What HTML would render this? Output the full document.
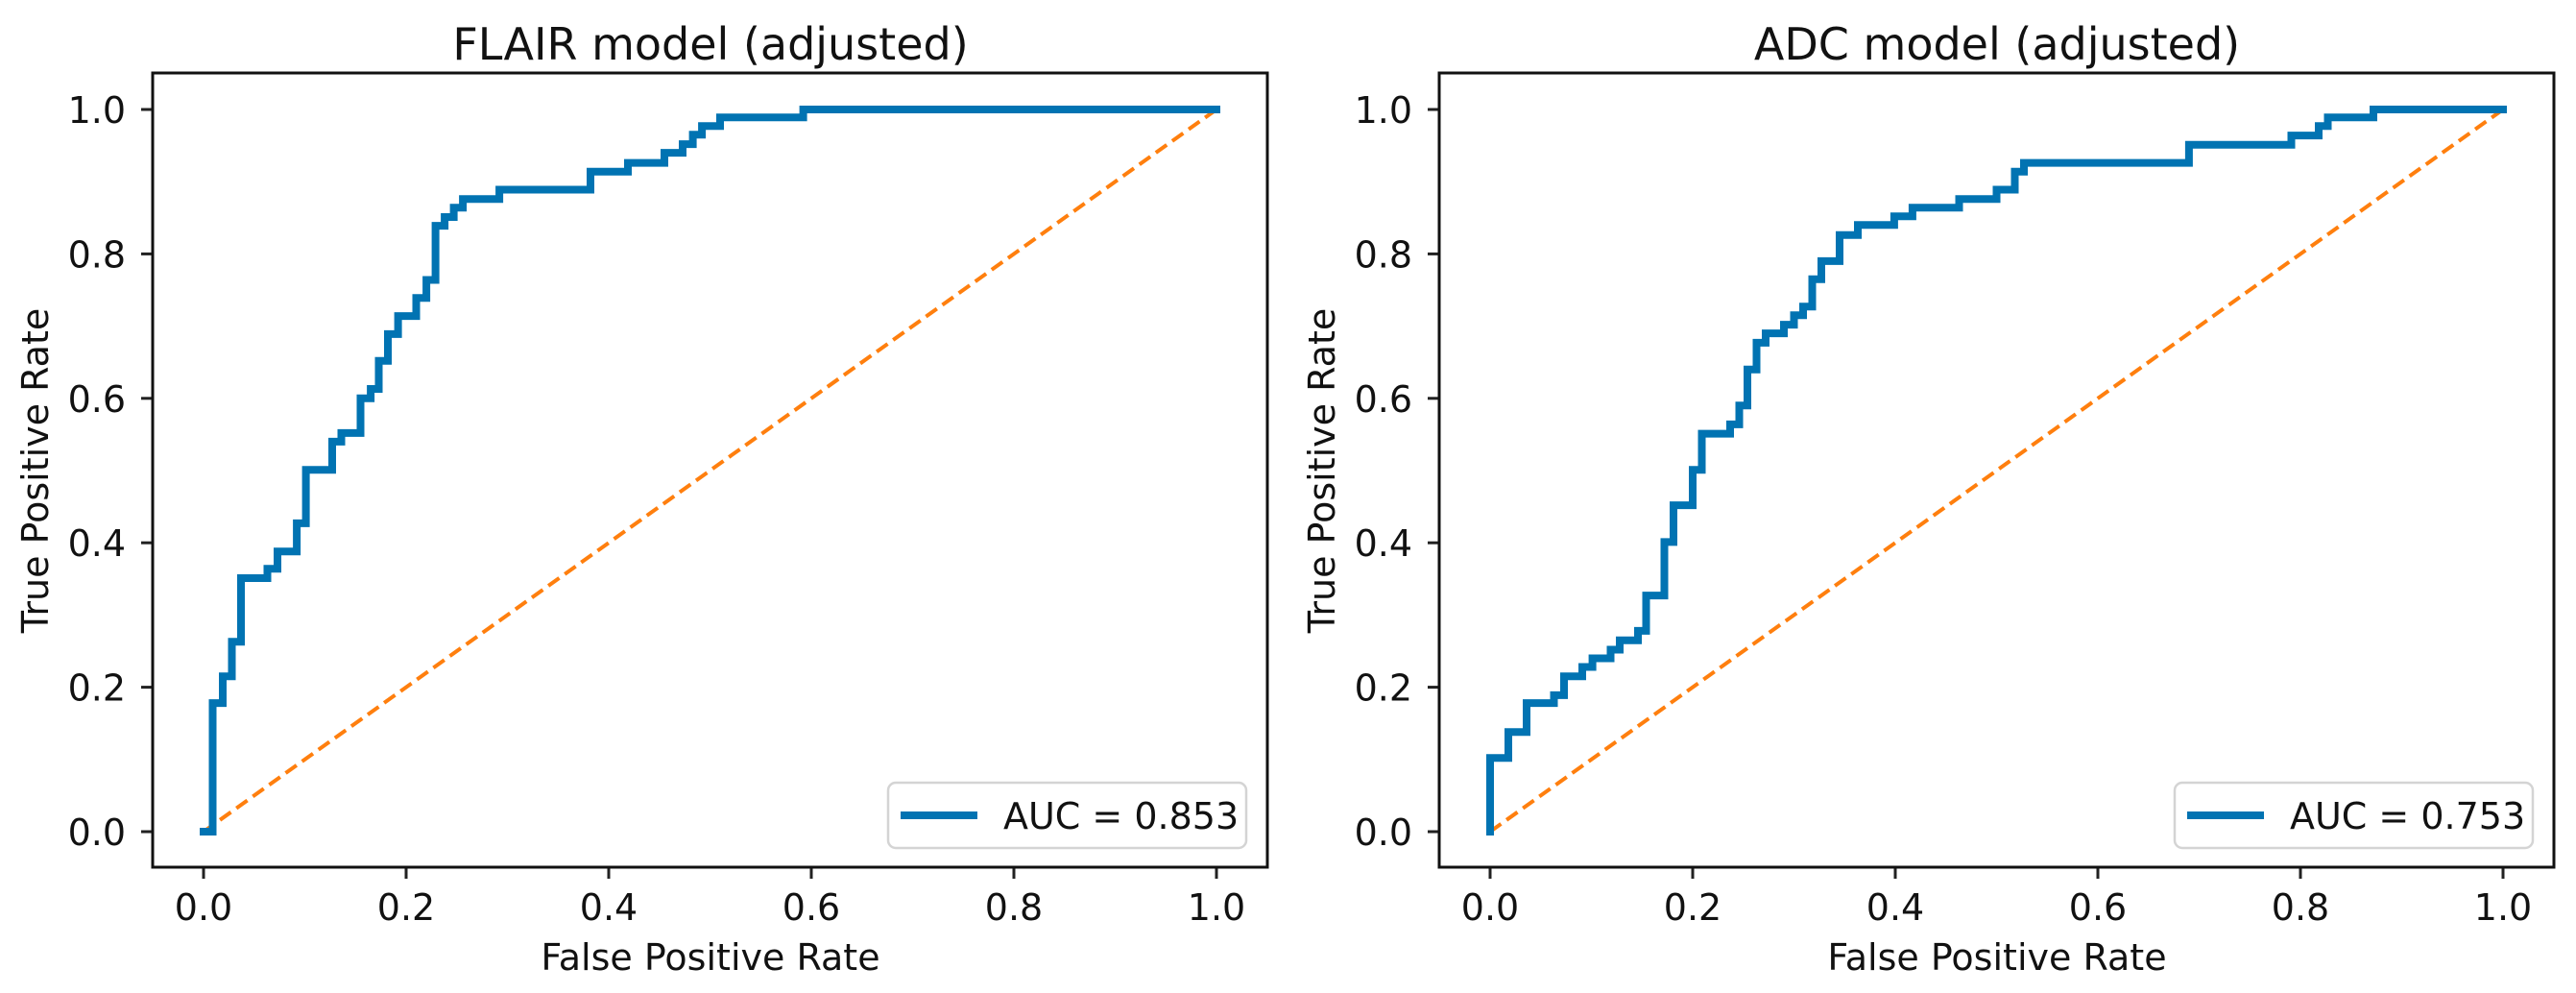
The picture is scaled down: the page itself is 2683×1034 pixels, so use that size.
<!DOCTYPE html>
<html><head><meta charset="utf-8"><style>
html,body{margin:0;padding:0;background:#fff;}
svg{display:block;font-family:"DejaVu Sans","Liberation Sans",sans-serif;}
</style></head><body>
<svg id="chart" width="2683" height="1034" viewBox="0 0 2683 1034" xmlns="http://www.w3.org/2000/svg"></svg>
<script>
const ticks = [0, 0.2, 0.4, 0.6, 0.8, 1.0];
const tickLabels = ["0.0", "0.2", "0.4", "0.6", "0.8", "1.0"];
const flairFpr = [0,0.009,0.009,0.019,0.019,0.028,0.028,0.037,0.037,0.063,0.063,0.073,0.073,0.092,0.092,0.101,0.101,0.127,0.127,0.136,0.136,0.155,0.155,0.165,0.165,0.173,0.173,0.182,0.182,0.192,0.192,0.210,0.210,0.220,0.220,0.229,0.229,0.238,0.238,0.247,0.247,0.256,0.256,0.292,0.292,0.382,0.382,0.419,0.419,0.455,0.455,0.473,0.473,0.483,0.483,0.492,0.492,0.510,0.510,0.592,0.592,1.0];
const flairTpr = [0,0,0.178,0.178,0.215,0.215,0.263,0.263,0.351,0.351,0.364,0.364,0.388,0.388,0.427,0.427,0.501,0.501,0.540,0.540,0.552,0.552,0.600,0.600,0.613,0.613,0.652,0.652,0.689,0.689,0.714,0.714,0.739,0.739,0.764,0.764,0.839,0.839,0.851,0.851,0.864,0.864,0.876,0.876,0.889,0.889,0.914,0.914,0.926,0.926,0.940,0.940,0.952,0.952,0.965,0.965,0.977,0.977,0.989,0.989,1.0,1.0];
const adcFpr = [0,0,0.018,0.018,0.036,0.036,0.063,0.063,0.073,0.073,0.091,0.091,0.101,0.101,0.119,0.119,0.128,0.128,0.146,0.146,0.154,0.154,0.172,0.172,0.181,0.181,0.200,0.200,0.209,0.209,0.237,0.237,0.246,0.246,0.254,0.254,0.263,0.263,0.272,0.272,0.290,0.290,0.300,0.300,0.309,0.309,0.318,0.318,0.327,0.327,0.345,0.345,0.363,0.363,0.399,0.399,0.417,0.417,0.463,0.463,0.500,0.500,0.518,0.518,0.527,0.527,0.690,0.690,0.791,0.791,0.818,0.818,0.827,0.827,0.872,0.872,1.0];
const adcTpr = [0,0.102,0.102,0.138,0.138,0.178,0.178,0.189,0.189,0.215,0.215,0.228,0.228,0.240,0.240,0.252,0.252,0.265,0.265,0.278,0.278,0.327,0.327,0.401,0.401,0.452,0.452,0.501,0.501,0.551,0.551,0.564,0.564,0.590,0.590,0.640,0.640,0.677,0.677,0.690,0.690,0.702,0.702,0.715,0.715,0.727,0.727,0.765,0.765,0.790,0.790,0.826,0.826,0.840,0.840,0.852,0.852,0.864,0.864,0.876,0.876,0.889,0.889,0.914,0.914,0.926,0.926,0.951,0.951,0.964,0.964,0.977,0.977,0.989,0.989,1.0,1.0];
const panels = [
  {title:"FLAIR model (adjusted)", auc:"AUC = 0.853", fpr:flairFpr, tpr:flairTpr, off:0, key:"flair"},
  {title:"ADC model (adjusted)", auc:"AUC = 0.753", fpr:adcFpr, tpr:adcTpr, off:1340, key:"adc"}
];
const NS = "http://www.w3.org/2000/svg";
const svg = document.getElementById('chart');
function mk(tag, attrs, parent, text){
  const e = document.createElementNS(NS, tag);
  for (const k in attrs) e.setAttribute(k, attrs[k]);
  if (text !== undefined) e.textContent = text;
  parent.appendChild(e);
  return e;
}
panels.forEach(p => {
  const o = p.off;
  const x0 = 212 + o, xw = 1055, y0 = 866, yh = 752;
  const sx = v => x0 + v * xw;
  const sy = v => y0 - v * yh;
  const g = mk('g', {}, svg);
  
  
  const t = mk('text', {x: 740 + o, y: 62, 'text-anchor': 'middle', 'font-size': 46, fill: '#111'}, g, p.title);
  
  
  // ticks
  ticks.forEach((v, i) => {
    const xt = mk('line', {x1: sx(v), x2: sx(v), y1: 903, y2: 915, stroke: '#222', 'stroke-width': 3}, g);
    
    
    const xl = mk('text', {x: sx(v), y: 958, 'text-anchor': 'middle', 'font-size': 38, fill: '#111'}, g, tickLabels[i]);
    
    
    const yt = mk('line', {x1: 147 + o, x2: 159 + o, y1: sy(v), y2: sy(v), stroke: '#222', 'stroke-width': 3}, g);
    
    
    const yl = mk('text', {x: 131 + o, y: sy(v) + 14, 'text-anchor': 'end', 'font-size': 38, fill: '#111'}, g, tickLabels[i]);
    
    
  });
  const xlab = mk('text', {x: 740 + o, y: 1010, 'text-anchor': 'middle', 'font-size': 38, fill: '#111'}, g, 'False Positive Rate');
  
  
  const ylab = mk('text', {x: 0, y: 0, 'text-anchor': 'middle', 'font-size': 38, fill: '#111', transform: `translate(${50 + o},490) rotate(-90)`}, g, 'True Positive Rate');
  
  
  // diagonal
  const diag = mk('line', {x1: sx(0), y1: sy(0), x2: sx(1), y2: sy(1), stroke: '#ff7f0e', 'stroke-width': 4, 'stroke-dasharray': '14 7'}, g);
  
  
  // roc
  const pts = p.fpr.map((f, i) => `${sx(f).toFixed(1)},${sy(p.tpr[i]).toFixed(1)}`).join(' ');
  const roc = mk('polyline', {points: pts, fill: 'none', stroke: '#0173b2', 'stroke-width': 8, 'stroke-linejoin': 'miter', 'stroke-linecap': 'square'}, g);
  
  
  // frame
  const fr = mk('rect', {x: 159 + o, y: 76, width: 1161, height: 827, fill: 'none', stroke: '#111', 'stroke-width': 3}, g);
  
  
  // legend
  const lg = mk('g', {}, g);
  
  
  mk('rect', {x: 925 + o, y: 815, width: 373, height: 68, rx: 8, fill: 'rgba(255,255,255,0.85)', stroke: '#d4d4d4', 'stroke-width': 2.5}, lg);
  const ll = mk('line', {x1: 938 + o, x2: 1018 + o, y1: 849, y2: 849, stroke: '#0173b2', 'stroke-width': 8}, lg);
  
  
  const lt = mk('text', {x: 1045 + o, y: 863, 'font-size': 38, fill: '#111'}, lg, p.auc);
  
  
});
</script>
</body></html>
